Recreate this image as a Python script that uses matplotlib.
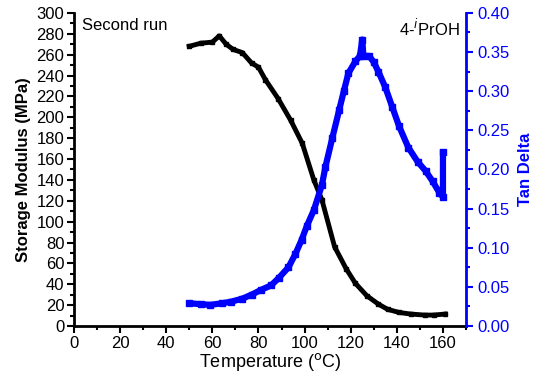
import matplotlib
matplotlib.use("Agg")
import matplotlib.pyplot as plt
from matplotlib.ticker import MultipleLocator

plt.rcParams['font.family'] = ['Liberation Sans', 'DejaVu Sans']

# Storage modulus (black)
temp_e = [50, 55, 60, 63, 66, 69, 73, 77, 80, 83, 88.5, 94, 99, 104, 107.5,
          113, 118, 122, 127, 132, 136, 141, 146, 152, 156, 161]
modulus = [268, 271, 272, 278, 270, 265, 262, 252, 248, 236, 218, 197, 175,
           140, 121, 76, 55, 41, 29, 21, 16, 13, 11.5, 10.5, 10.5, 11.5]

# Tan delta (blue)
temp_d = [50, 55, 59, 64, 68, 73, 77, 81, 85.5, 89, 93, 96, 98.7, 101, 104,
          107.5, 109, 112, 115, 117, 119, 122, 124, 125, 125.5, 128, 130, 132,
          135, 138, 141, 145, 149, 152.5, 155.5, 158.5, 160, 160]
tan_delta = [0.029, 0.028, 0.027, 0.029, 0.031, 0.035, 0.040, 0.046, 0.052,
             0.062, 0.075, 0.092, 0.110, 0.128, 0.148, 0.180, 0.203, 0.240,
             0.276, 0.300, 0.323, 0.338, 0.345, 0.366, 0.345, 0.345, 0.337,
             0.325, 0.305, 0.280, 0.255, 0.228, 0.210, 0.198, 0.185, 0.170,
             0.165, 0.222]

fig = plt.figure(figsize=(5.4, 3.8), dpi=100)
ax = fig.add_axes([0.137, 0.142, 0.726, 0.824])
ax2 = ax.twinx()

ax.plot(temp_e, modulus, color='black', lw=3.5, marker='s', ms=3.5,
        solid_joinstyle='round')
ax2.plot(temp_d, tan_delta, color='blue', lw=4.5, marker='s', ms=4.5)

ax.set_xlim(0, 170)
ax.set_ylim(0, 300)
ax2.set_ylim(0, 0.40)

ax.xaxis.set_major_locator(MultipleLocator(20))
ax.xaxis.set_minor_locator(MultipleLocator(10))
ax.yaxis.set_major_locator(MultipleLocator(20))
ax.yaxis.set_minor_locator(MultipleLocator(10))
ax2.yaxis.set_major_locator(MultipleLocator(0.05))
ax2.yaxis.set_minor_locator(MultipleLocator(0.025))
ax2.yaxis.set_major_formatter(matplotlib.ticker.FormatStrFormatter('%.2f'))

for a in (ax, ax2):
    a.spines['top'].set_visible(False)
    for s in a.spines.values():
        s.set_linewidth(2)
ax.spines['right'].set_visible(False)
ax2.spines['left'].set_visible(False)
ax2.spines['bottom'].set_visible(False)
ax2.spines['right'].set_color('blue')

ax.tick_params(which='major', direction='out', length=5, width=1.5,
               labelsize=12, colors='black', pad=2)
ax.tick_params(which='minor', direction='out', length=3, width=1.5)
ax2.tick_params(which='major', direction='out', length=5, width=1.5,
                labelsize=12, colors='blue', pad=3)
ax2.tick_params(which='minor', direction='out', length=3, width=1.5,
                colors='blue')

ax.set_xlabel('Temperature ($^\\mathrm{o}$C)', fontsize=13, labelpad=0)
ax.set_ylabel('Storage Modulus (MPa)', fontsize=12, fontweight='bold',
              labelpad=4)
ax2.set_ylabel('Tan Delta', fontsize=12, fontweight='bold', color='blue',
               labelpad=6)

ax.text(0.02, 0.985, 'Second run', transform=ax.transAxes, fontsize=12,
        va='top', ha='left')
ax.text(0.985, 0.985, '4-$^i$PrOH', transform=ax.transAxes, fontsize=12,
        va='top', ha='right')

fig.savefig('out.png', dpi=100)
